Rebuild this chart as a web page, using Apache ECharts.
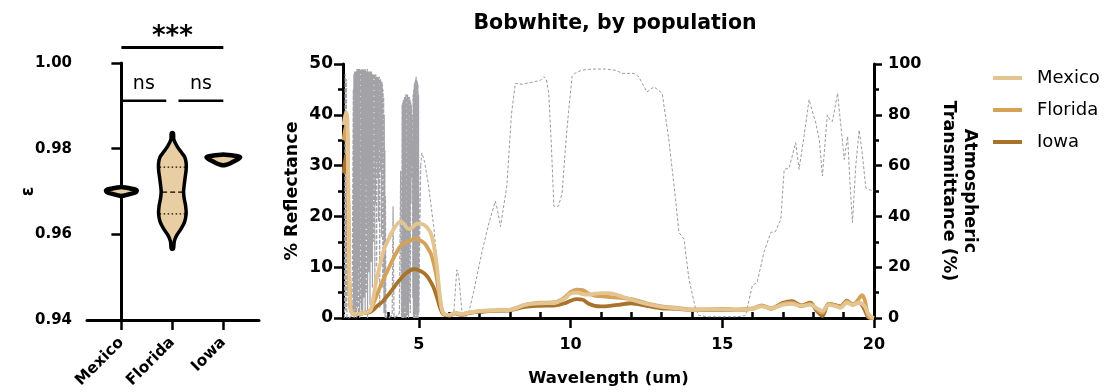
<!DOCTYPE html>
<html>
<head>
<meta charset="utf-8">
<script src="https://cdn.jsdelivr.net/npm/echarts@6/dist/echarts.min.js"></script>
<style>
  html, body { margin: 0; padding: 0; background: #fff; }
  #chart { width: 1106px; height: 392px; }
</style>
</head>
<body>
<div id="chart"></div>
<script>
// violin panel (emissivity by population)
const groups = ['Mexico', 'Florida', 'Iowa'];
const mexicoLevels = [0.9690, 0.9694, 0.9698, 0.9703, 0.9707, 0.9710];
const mexicoHalfW = [0.03, 0.16, 0.28, 0.30, 0.18, 0.03];
const floridaLevels = [0.9566, 0.95847, 0.95987, 0.96128, 0.9629, 0.96478, 0.96665, 0.96852, 0.96992,
  0.9713, 0.9732, 0.97505, 0.9767, 0.9781, 0.97926, 0.98044, 0.98207, 0.9837];
const floridaHalfW = [0.02, 0.04, 0.09, 0.17, 0.24, 0.27, 0.26, 0.23, 0.22,
  0.23, 0.25, 0.27, 0.27, 0.24, 0.17, 0.10, 0.03, 0.02];
const iowaLevels = [0.9762, 0.9766, 0.9770, 0.9775, 0.9780, 0.9783, 0.9786];
const iowaHalfW = [0.04, 0.14, 0.20, 0.28, 0.33, 0.25, 0.04];
const floridaQuartiles = [0.96478, 0.96985, 0.97569]; // q1, median, q3

// significance brackets
const sigFrom = [0, 0, 1];
const sigTo = [2, 1, 2];
const sigLevel = [1.0036, 0.9912, 0.9912];
const sigLabel = ['***', 'ns', 'ns'];

// reflectance spectra (%)
const wl = [2.52, 2.6, 2.65, 2.7, 2.75, 2.8, 3.0, 3.2, 3.4, 3.5,
  3.6, 3.7, 3.8, 3.9, 4.0, 4.1, 4.2, 4.3, 4.4, 4.5,
  4.6, 4.7, 4.8, 4.9, 5.0, 5.1, 5.2, 5.3, 5.4, 5.5,
  5.6, 5.7, 5.8, 6.0, 6.2, 6.4, 6.6, 6.8, 7.0, 7.5,
  8.0, 8.5, 9.0, 9.5, 9.8, 10.0, 10.2, 10.4, 10.6, 10.8,
  11.0, 11.3, 11.6, 12.0, 12.5, 13.0, 13.5, 14.0, 14.5, 15.0,
  15.5, 16.0, 16.3, 16.6, 17.0, 17.3, 17.6, 17.9, 18.1, 18.3,
  18.5, 18.7, 18.9, 19.1, 19.3, 19.5, 19.6, 19.7, 19.8, 19.9,
  20.0];
const mexico = [38, 40.5, 39, 10, 2, 1, 0.8, 1.0, 1.5, 4,
  7.5, 10, 12.5, 14.2, 15.5, 16.8, 17.8, 18.6, 19, 18.6,
  17.8, 17.5, 17.9, 18.5, 18.6, 18.5, 18.2, 17.6, 16.6, 14,
  10, 4, 1, 0.6, 1.0, 0.8, 1.0, 1.2, 1.4, 1.5,
  1.6, 2.6, 2.9, 3.0, 3.8, 4.8, 5.0, 4.7, 4.6, 4.8,
  4.9, 4.9, 4.4, 3.6, 2.8, 2.2, 1.9, 1.6, 1.7, 1.7,
  1.6, 1.8, 2.3, 1.9, 2.6, 2.8, 2.4, 2.6, 2.0, 1.4,
  2.6, 2.4, 2.0, 3.0, 2.6, 3.0, 2.8, 2.2, 1.0, 0.3,
  0];
const florida = [35, 38, 36, 9, 2, 1, 0.8, 1.0, 1.5, 2.8,
  4.3, 5.8, 7.2, 8.5, 9.7, 11, 12.2, 13.3, 14.2, 14.7,
  15, 15.2, 15.5, 15.6, 15.4, 15.1, 14.6, 13.7, 12.6, 10.5,
  7.5, 3.5, 1, 0.5, 1.0, 0.7, 1.0, 1.2, 1.3, 1.5,
  1.6, 2.6, 3.0, 3.1, 4.0, 5.1, 5.6, 5.5, 4.8, 4.4,
  4.3, 4.1, 4.0, 3.7, 2.9, 2.3, 2.0, 1.7, 1.7, 1.8,
  1.7, 1.9, 2.5, 1.8, 2.8, 3.0, 2.3, 2.8, 1.8, 1.0,
  2.8, 2.5, 2.2, 3.3, 2.6, 3.8, 4.5, 3.5, 0.5, 0,
  0];
const iowa = [28.5, 32, 30, 8, 2, 1, 0.8, 1.0, 1.2, 1.6,
  2.2, 2.7, 3.2, 3.9, 4.6, 5.4, 6.2, 7.0, 7.7, 8.4,
  8.9, 9.3, 9.6, 9.6, 9.4, 9.1, 8.7, 8.0, 7.0, 5.8,
  4.0, 2.0, 0.8, 0.5, 0.9, 0.6, 0.9, 1.1, 1.2, 1.4,
  1.5, 2.2, 2.4, 2.5, 2.9, 3.4, 3.7, 3.6, 2.8, 2.4,
  2.3, 2.4, 2.6, 2.9, 2.4, 1.9, 1.8, 1.6, 1.6, 1.6,
  1.6, 1.8, 2.4, 1.9, 3.0, 3.3, 2.5, 3.0, 1.5, 0.4,
  2.8, 2.6, 2.3, 3.4, 2.7, 3.0, 2.6, 1.5, 0.2, 0,
  0];

// atmospheric transmittance (%)
const transWl = [2.55, 2.57, 2.59, 2.61, 2.63, 2.7, 2.8,
  2.84, 2.85, 2.86, 2.87, 2.88, 2.89, 2.90, 2.91, 2.92, 2.93, 2.94, 2.95, 2.96, 2.97, 2.98, 2.99,
  3.00, 3.01, 3.02, 3.03, 3.04, 3.05, 3.06, 3.07, 3.08, 3.09, 3.10, 3.11, 3.12, 3.13, 3.14, 3.15,
  3.16, 3.17, 3.18, 3.19, 3.20, 3.21, 3.22, 3.23, 3.24, 3.25, 3.26, 3.27, 3.28, 3.29, 3.30, 3.31,
  3.32, 3.33, 3.34, 3.35, 3.36, 3.37, 3.38, 3.39, 3.40, 3.41, 3.42, 3.43, 3.44, 3.45, 3.46, 3.47,
  3.48, 3.49, 3.50, 3.51, 3.52, 3.53, 3.54, 3.55, 3.56, 3.57, 3.58, 3.59, 3.60, 3.61, 3.62, 3.63,
  3.64, 3.65, 3.66, 3.67, 3.68, 3.69, 3.70, 3.71, 3.72, 3.73, 3.74, 3.75, 3.76, 3.77, 3.78, 3.79,
  3.80, 3.81, 3.82, 3.83, 3.84, 3.85, 3.86, 3.87, 3.88, 3.89, 3.90, 3.91, 3.92,
  4.0, 4.12, 4.15, 4.18, 4.3, 4.36, 4.4, 4.43,
  4.45, 4.46, 4.47, 4.48, 4.49, 4.50, 4.51, 4.52, 4.53, 4.54, 4.55, 4.56, 4.57, 4.58, 4.59, 4.60,
  4.61, 4.62, 4.63, 4.64, 4.65, 4.66, 4.67, 4.68, 4.69, 4.70, 4.71, 4.72, 4.73, 4.74, 4.75, 4.76,
  4.77, 4.78, 4.79, 4.80, 4.81, 4.82, 4.83, 4.84, 4.85, 4.86, 4.87, 4.88, 4.89, 4.90, 4.91, 4.92,
  4.93, 4.94, 4.95, 4.96, 4.97, 4.98, 4.99, 5.00, 5.03, 5.06,
  5.1, 5.2, 5.32, 5.49, 5.6, 5.7, 5.82, 6.0, 6.15, 6.25, 6.32, 6.42, 6.55, 6.64, 6.8, 7.08,
  7.3, 7.52, 7.6, 7.69, 7.9, 8.05, 8.18, 8.4, 8.79, 9.0, 9.12, 9.2, 9.28, 9.36, 9.45, 9.6,
  9.72, 9.85, 9.94, 10.05, 10.16, 10.38, 10.7, 11.15, 11.5, 11.7, 12.09, 12.25, 12.36, 12.52, 12.75, 13.02,
  13.12, 13.24, 13.46, 13.57, 13.74, 13.9, 14.12, 14.23, 14.5, 15.0, 15.5, 15.77, 15.99, 16.15, 16.37, 16.6,
  16.75, 16.93, 17.04, 17.2, 17.42, 17.53, 17.7, 17.86, 18.08, 18.2, 18.3, 18.46, 18.55, 18.63, 18.8, 19.02,
  19.13, 19.2, 19.29, 19.4, 19.51, 19.62, 19.73, 19.85, 20.0];
const transPct = [0, 96, 3, 94, 0, 0, 1,
  90, 3, 96, 0, 97, 5, 97, 1, 96, 8, 97, 0, 98, 4, 97, 12,
  98, 2, 97, 20, 98, 0, 97, 6, 98, 30, 97, 3, 98, 15, 97, 1,
  98, 42, 97, 8, 98, 25, 97, 2, 98, 55, 97, 10, 97, 35, 98, 0,
  97, 48, 97, 18, 97, 60, 97, 5, 97, 40, 96, 22, 97, 65, 96, 12,
  96, 50, 96, 30, 96, 70, 96, 8, 95, 45, 96, 62, 95, 20, 95, 55,
  95, 74, 95, 38, 94, 66, 95, 4, 94, 58, 94, 70, 93, 32, 93, 62,
  92, 12, 90, 50, 87, 2, 80, 40, 66, 0, 48, 8, 0,
  0, 1, 44, 0, 1, 2, 58, 0,
  84, 0, 85, 2, 86, 0, 86, 5, 87, 0, 87, 3, 88, 0, 88, 10,
  88, 1, 88, 20, 87, 0, 86, 6, 87, 30, 86, 2, 85, 45, 84, 60,
  80, 55, 70, 8, 88, 0, 90, 4, 92, 0, 93, 2, 94, 0, 95, 3,
  94, 0, 93, 5, 92, 0, 88, 2, 35, 60,
  65, 61, 52, 36, 22, 8, 1, 0.5, 2, 19, 16, 2.5, 0.5, 2, 10, 26,
  37, 46, 42, 36, 52, 80, 92.4, 92, 93, 93.5, 95, 94, 88.5, 70, 44, 44,
  49, 70, 82, 95, 96.5, 97.6, 98, 98, 97.5, 96.3, 96.3, 95, 92.4, 89, 91, 88.5,
  80, 70, 46.7, 33.7, 31, 15.4, 3.6, 1, 0.5, 0.5, 0.5, 1, 12.8, 14, 25.8, 33.7,
  34, 38.9, 58.5, 59, 69, 58.5, 72, 86, 76.8, 70, 55.9, 80, 78, 77.4, 88.5, 62.4,
  71.5, 55, 37.6, 60, 74, 64, 51.3, 50.5, 50];
const denseEnd = 5.06; // high-resolution band region drawn a touch heavier

// x ticks of the spectrum panel
const majorTicks = [5, 10, 15, 20];
const minorTicks = [3, 4, 6, 7, 8, 9, 11, 12, 13, 14, 16, 17, 18, 19];

const colors = { Mexico: '#e4c592', Florida: '#d5a25a', Iowa: '#a8742d' };
const violinFill = '#e9cea3';
const FONT = 'DejaVu Sans';

const violinLevels = [mexicoLevels, floridaLevels, iowaLevels];
const violinHalfW = [mexicoHalfW, floridaHalfW, iowaHalfW];

function widthAt(levels, widths, v) {
  for (let i = 0; i < levels.length - 1; i++) {
    if (v >= levels[i] && v <= levels[i + 1]) {
      const t = (v - levels[i]) / (levels[i + 1] - levels[i]);
      return widths[i] + t * (widths[i + 1] - widths[i]);
    }
  }
  return 0;
}

function renderViolin(params, api) {
  const g = api.value(0);
  const levels = violinLevels[g];
  const widths = violinHalfW[g];
  const pts = [];
  for (let i = 0; i < levels.length; i++) pts.push(api.coord([g - widths[i], levels[i]]));
  for (let i = levels.length - 1; i >= 0; i--) pts.push(api.coord([g + widths[i], levels[i]]));
  const children = [{
    type: 'polygon',
    shape: { points: pts, smooth: 0.35 },
    style: { fill: violinFill, stroke: '#000', lineWidth: g === 1 ? 3.5 : 4.5, lineJoin: 'round' }
  }];
  if (g === 1) {
    floridaQuartiles.forEach((q, k) => {
      const w = widthAt(levels, widths, q) - 0.02;
      const a = api.coord([g - w, q]);
      const b = api.coord([g + w, q]);
      children.push({
        type: 'line',
        shape: { x1: a[0], y1: a[1], x2: b[0], y2: b[1] },
        style: { stroke: '#000', lineWidth: 1.3, lineDash: k === 1 ? [5, 3] : [1.5, 2.5] }
      });
    });
  }
  return { type: 'group', children };
}

function renderSig(params, api) {
  const i = params.dataIndex;
  let from = api.value(0);
  let to = api.value(1);
  const level = api.value(2);
  const last = groups.length - 1;
  if (from > 0 && from < last) from += 0.12;
  if (to > 0 && to < last) to -= 0.12;
  const a = api.coord([from, level]);
  const b = api.coord([to, level]);
  const stars = sigLabel[i] === '***';
  return {
    type: 'group',
    children: [
      { type: 'line', shape: { x1: a[0], y1: a[1], x2: b[0], y2: b[1] },
        style: { stroke: '#000', lineWidth: stars ? 3 : 2.5 } },
      { type: 'text',
        style: {
          text: sigLabel[i], x: (a[0] + b[0]) / 2, y: a[1] + (stars ? 3 : -7),
          align: 'center', verticalAlign: 'bottom',
          fontFamily: FONT, fontSize: stars ? 26 : 19, fontWeight: stars ? 'bold' : 'normal', fill: '#000'
        } }
    ]
  };
}

const axisLine = { lineStyle: { color: '#000', width: 3 } };
const tickStyle = { color: '#000', width: 2.5 };
const boldLabel = { color: '#000', fontFamily: FONT, fontWeight: 'bold', fontSize: 15 };

const transPairs = transWl.map((x, i) => [x, transPct[i]]);

const chart = echarts.init(document.getElementById('chart'));

chart.setOption({
  animation: false,
  backgroundColor: '#fff',
  title: {
    text: 'Bobwhite, by population',
    left: 610, top: 8, textAlign: 'center',
    textStyle: { fontFamily: FONT, fontWeight: 'bold', fontSize: 20.5, color: '#000' }
  },
  legend: {
    orient: 'vertical', left: 993, top: 69, padding: 0,
    data: ['Mexico', 'Florida', 'Iowa'],
    icon: 'rect', itemWidth: 29, itemHeight: 4, itemGap: 14,
    textStyle: { fontFamily: FONT, fontSize: 18, color: '#000', lineHeight: 18, padding: [0, 0, 0, 10] }
  },
  grid: [
    { left: 87, top: 63, width: 172, height: 257 },
    { left: 343, top: 64, width: 531, height: 255 }
  ],
  xAxis: [
    {
      gridIndex: 0, type: 'value', min: -0.675, max: 2.7,
      axisLine: axisLine,
      axisTick: { show: true, customValues: [0, 1, 2], length: 10, lineStyle: tickStyle },
      axisLabel: Object.assign({}, boldLabel, {
        customValues: [0, 1, 2], rotate: 45, margin: 20, fontSize: 15.5,
        formatter: v => groups[Math.round(v)]
      }),
      splitLine: { show: false }
    },
    {
      gridIndex: 1, type: 'value', min: 2.5, max: 20,
      name: 'Wavelength (um)', nameLocation: 'middle', nameGap: 52,
      nameTextStyle: { fontFamily: FONT, fontWeight: 'bold', fontSize: 16.5, color: '#000' },
      axisLine: axisLine,
      axisTick: { show: true, customValues: majorTicks, length: 10, lineStyle: tickStyle },
      axisLabel: Object.assign({}, boldLabel, { customValues: majorTicks, margin: 19, fontSize: 16 }),
      splitLine: { show: false }
    },
    {
      gridIndex: 1, type: 'value', min: 2.5, max: 20,
      axisLine: { show: false },
      axisTick: { show: true, customValues: minorTicks, length: 6, lineStyle: tickStyle },
      axisLabel: { show: false },
      splitLine: { show: false }
    }
  ],
  yAxis: [
    {
      gridIndex: 0, type: 'value', min: 0.94, max: 1.0, interval: 0.02,
      name: 'ε', nameLocation: 'middle', nameGap: 50, nameMoveOverlap: false,
      nameTextStyle: { fontFamily: FONT, fontWeight: 'bold', fontSize: 17, color: '#000' },
      axisLine: axisLine,
      axisTick: { length: 10, lineStyle: tickStyle },
      axisLabel: Object.assign({}, boldLabel, { formatter: v => v.toFixed(2), margin: 15 }),
      splitLine: { show: false }
    },
    {
      gridIndex: 1, type: 'value', min: 0, max: 50, interval: 10,
      name: '% Reflectance', nameLocation: 'middle', nameGap: 42,
      nameTextStyle: { fontFamily: FONT, fontWeight: 'bold', fontSize: 17.5, color: '#000' },
      axisLine: axisLine,
      axisTick: { length: 9, lineStyle: tickStyle },
      minorTick: { show: true, splitNumber: 2, length: 5, lineStyle: tickStyle },
      axisLabel: Object.assign({}, boldLabel, { margin: 10, fontSize: 17 }),
      splitLine: { show: false }
    },
    {
      gridIndex: 1, type: 'value', min: 0, max: 100, interval: 20, position: 'right',
      name: 'Atmospheric\nTransmittance (%)', nameLocation: 'middle', nameRotate: -90, nameGap: 64,
      nameTextStyle: { fontFamily: FONT, fontWeight: 'bold', fontSize: 17.5, color: '#000', lineHeight: 21 },
      axisLine: axisLine,
      axisTick: { length: 8, lineStyle: tickStyle },
      minorTick: { show: true, splitNumber: 2, length: 5, lineStyle: tickStyle },
      axisLabel: Object.assign({}, boldLabel, { margin: 14, fontSize: 16 }),
      splitLine: { show: false }
    }
  ],
  series: [
    {
      type: 'custom', name: 'violin', xAxisIndex: 0, yAxisIndex: 0,
      renderItem: renderViolin,
      data: groups.map((g, i) => [i, violinLevels[i][0]]),
      z: 3, silent: true
    },
    {
      type: 'custom', name: 'sig', xAxisIndex: 0, yAxisIndex: 0,
      renderItem: renderSig,
      encode: { x: [0, 1], y: 2 },
      data: sigLabel.map((l, i) => [sigFrom[i], sigTo[i], sigLevel[i]]),
      clip: false, z: 3, silent: true
    },
    {
      type: 'line', name: 'TransmittanceBands', xAxisIndex: 1, yAxisIndex: 2,
      data: transPairs.filter(p => p[0] <= denseEnd),
      symbol: 'none',
      lineStyle: { color: '#a2a2a7', width: 1.2, type: [4, 1.5] },
      z: 2, silent: true
    },
    {
      type: 'line', name: 'Transmittance', xAxisIndex: 1, yAxisIndex: 2,
      data: transPairs.filter(p => p[0] >= denseEnd),
      symbol: 'none',
      lineStyle: { color: '#9b9ba0', width: 1, type: [3, 2] },
      z: 2, silent: true
    },
    {
      type: 'line', name: 'Iowa', xAxisIndex: 1, yAxisIndex: 1,
      data: wl.map((x, i) => [x, iowa[i]]),
      symbol: 'none', smooth: 0.3, itemStyle: { color: colors.Iowa },
      lineStyle: { color: colors.Iowa, width: 3.8 }, z: 4
    },
    {
      type: 'line', name: 'Florida', xAxisIndex: 1, yAxisIndex: 1,
      data: wl.map((x, i) => [x, florida[i]]),
      symbol: 'none', smooth: 0.3, itemStyle: { color: colors.Florida },
      lineStyle: { color: colors.Florida, width: 3.8 }, z: 5
    },
    {
      type: 'line', name: 'Mexico', xAxisIndex: 1, yAxisIndex: 1,
      data: wl.map((x, i) => [x, mexico[i]]),
      symbol: 'none', smooth: 0.3, itemStyle: { color: colors.Mexico },
      lineStyle: { color: colors.Mexico, width: 3.8 }, z: 6
    }
  ]
});

window.addEventListener('resize', () => chart.resize());
</script>
</body>
</html>
